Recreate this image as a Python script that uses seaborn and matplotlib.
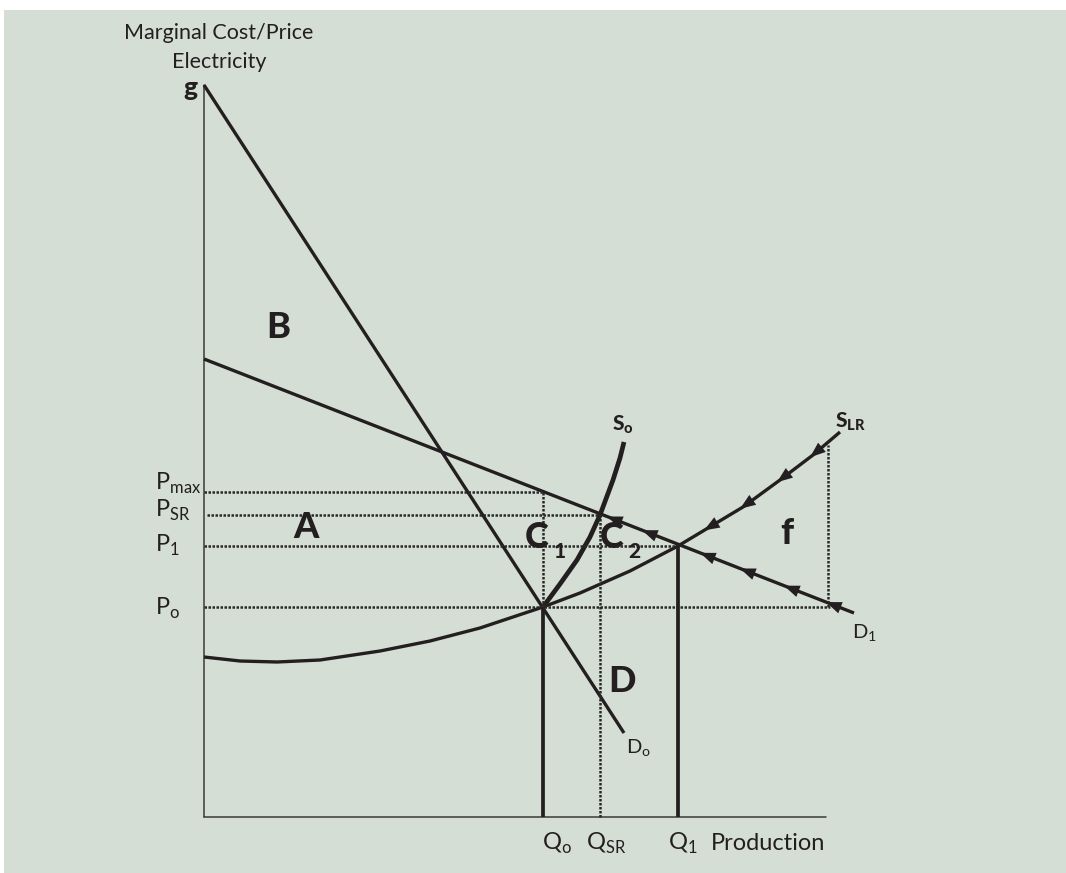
import matplotlib
matplotlib.use('Agg')
import matplotlib.pyplot as plt
import seaborn as sns
import numpy as np
import pandas as pd
from matplotlib.patches import Rectangle

# chart units: 1 unit = 1 px, origin at the axes corner
Q0, QSR, Q1, QF = 339, 396, 474, 624
P0, P1, PSR, PMAX, PF = 210, 271, 302, 325, 372
Q_AXIS_END, P_AXIS_END = 622, 732

D0_Q = [0, 420]
D0_P = [732, 84]
D1_Q = [0, 650]
D1_P = [458, 204]
S0_Q = [339, 356, 373, 386, 396, 409, 416, 420]
S0_P = [210, 233, 257, 280, 302, 337, 359, 375]
SLR_Q = [0, 36, 73, 116, 176, 226, 276, 339, 376, 426, 474, 504, 539, 576, 609, 636]
SLR_P = [160, 156, 155, 157, 166, 176, 189, 210, 224, 246, 271, 289, 310, 337, 362, 385]
SLR_ARROWS = [500, 536, 573, 606]
D1_ARROWS = [403, 438, 496, 536, 580, 622]

BG = '#d5ded4'
INK = '#231f20'
DOT = (0, (1.0, 0.6))

sns.set_theme(style='white')
plt.rcParams['font.family'] = ['Lato', 'DejaVu Sans']

fig = plt.figure(figsize=(10.66, 8.73), dpi=100)
fig.add_artist(Rectangle((4 / 1066, 0), 1, (873 - 10) / 873, transform=fig.transFigure,
                         facecolor=BG, edgecolor='none', zorder=0))
ax = fig.add_axes([0, 0, 1, 1])
ax.set_facecolor('none')
ax.set_xlim(-204, 862)
ax.set_ylim(-56, 817)
ax.axis('off')

# axes
ax.plot([0, 0], [0, P_AXIS_END], color='#3a3a3a', lw=1.1)
ax.plot([0, Q_AXIS_END], [0, 0], color='#3a3a3a', lw=1.1)

# curves
curves = [(D0_Q, D0_P, 2.4), (D1_Q, D1_P, 2.4), (SLR_Q, SLR_P, 2.4), (S0_Q, S0_P, 3.4)]
for qs, ps, lw in curves:
    df = pd.DataFrame({'q': qs, 'p': ps})
    sns.lineplot(data=df, x='q', y='p', sort=False, estimator=None, ax=ax,
                 color=INK, lw=lw, solid_capstyle='butt', solid_joinstyle='round')

# guide lines
dotted = [
    ([0, Q0], [PMAX, PMAX]),
    ([3, QSR], [PSR, PSR]),
    ([0, Q1], [P1, P1]),
    ([0, QF + 2], [P0, P0]),
    ([Q0, Q0], [P0, PMAX]),
    ([QSR, QSR], [0, PSR]),
    ([QF, QF], [P0, PF]),
]
for xs, ys in dotted:
    ax.plot(xs, ys, color='#2a2a2a', lw=1.8, linestyle=DOT)
ax.plot([Q0, Q0], [0, P0], color=INK, lw=2.7, solid_capstyle='butt')
ax.plot([Q1, Q1], [0, P1], color=INK, lw=2.7, solid_capstyle='butt')


# arrow heads along the curves
def add_arrows(qs_curve, ps_curve, positions):
    for q in positions:
        tip = (q, np.interp(q, qs_curve, ps_curve))
        tail = (q + 14, np.interp(q + 14, qs_curve, ps_curve))
        ax.annotate('', xy=tip, xytext=tail,
                    arrowprops=dict(arrowstyle='-|>,head_length=0.7,head_width=0.27',
                                    lw=0, color=INK, shrinkA=0, shrinkB=0,
                                    mutation_scale=16))


add_arrows(SLR_Q, SLR_P, SLR_ARROWS)
add_arrows(D1_Q, D1_P, D1_ARROWS)

# axis titles
ax.text(15, 784, 'Marginal Cost/Price', ha='center', va='center', fontsize=15.5, color=INK)
ax.text(15, 755, 'Electricity', ha='center', va='center', fontsize=15.5, color=INK)
ax.text(-14, 729, 'g', ha='center', va='center', fontsize=19, fontweight='black', color=INK)

# price labels
for y, lab in [(327, r'P$_\mathregular{max}$'), (300, r'P$_\mathregular{SR}$'),
               (265, r'P$_\mathregular{1}$'), (202, r'P$_\mathregular{o}$')]:
    ax.text(-49, y, lab, ha='left', va='baseline', fontsize=17, color=INK)

# quantity labels
for x, lab in [(338, r'Q$_\mathregular{o}$'), (382, r'Q$_\mathregular{SR}$'),
               (464, r'Q$_\mathregular{1}$'), (507, 'Production')]:
    ax.text(x, -33, lab, ha='left', va='baseline', fontsize=17, color=INK)

# area letters
big = dict(fontsize=26, fontweight='black', color=INK, ha='center', va='center')
ax.text(74, 489, 'B', **big)
ax.text(102, 289, 'A', **big)
ax.text(418, 135, 'D', **big)
ax.text(583, 284, 'f', **big)
ax.text(333, 279, 'C', **big)
ax.text(408, 279, 'C', **big)
ax.text(356, 265, '1', fontsize=15, fontweight='black', color=INK, ha='center', va='center')
ax.text(430, 265, '2', fontsize=15, fontweight='black', color=INK, ha='center', va='center')

# curve names
ax.text(419, 392, r'S$_\mathregular{o}$', ha='center', va='center', fontsize=15,
        fontweight='black', color=INK)
ax.text(646, 395, r'S$_\mathregular{LR}$', ha='center', va='center', fontsize=15,
        fontweight='black', color=INK)
ax.text(660, 184, r'D$_\mathregular{1}$', ha='center', va='center', fontsize=14.5, color=INK)
ax.text(434, 69, r'D$_\mathregular{o}$', ha='center', va='center', fontsize=14.5, color=INK)

fig.savefig('out.png', dpi=100, facecolor='white')
